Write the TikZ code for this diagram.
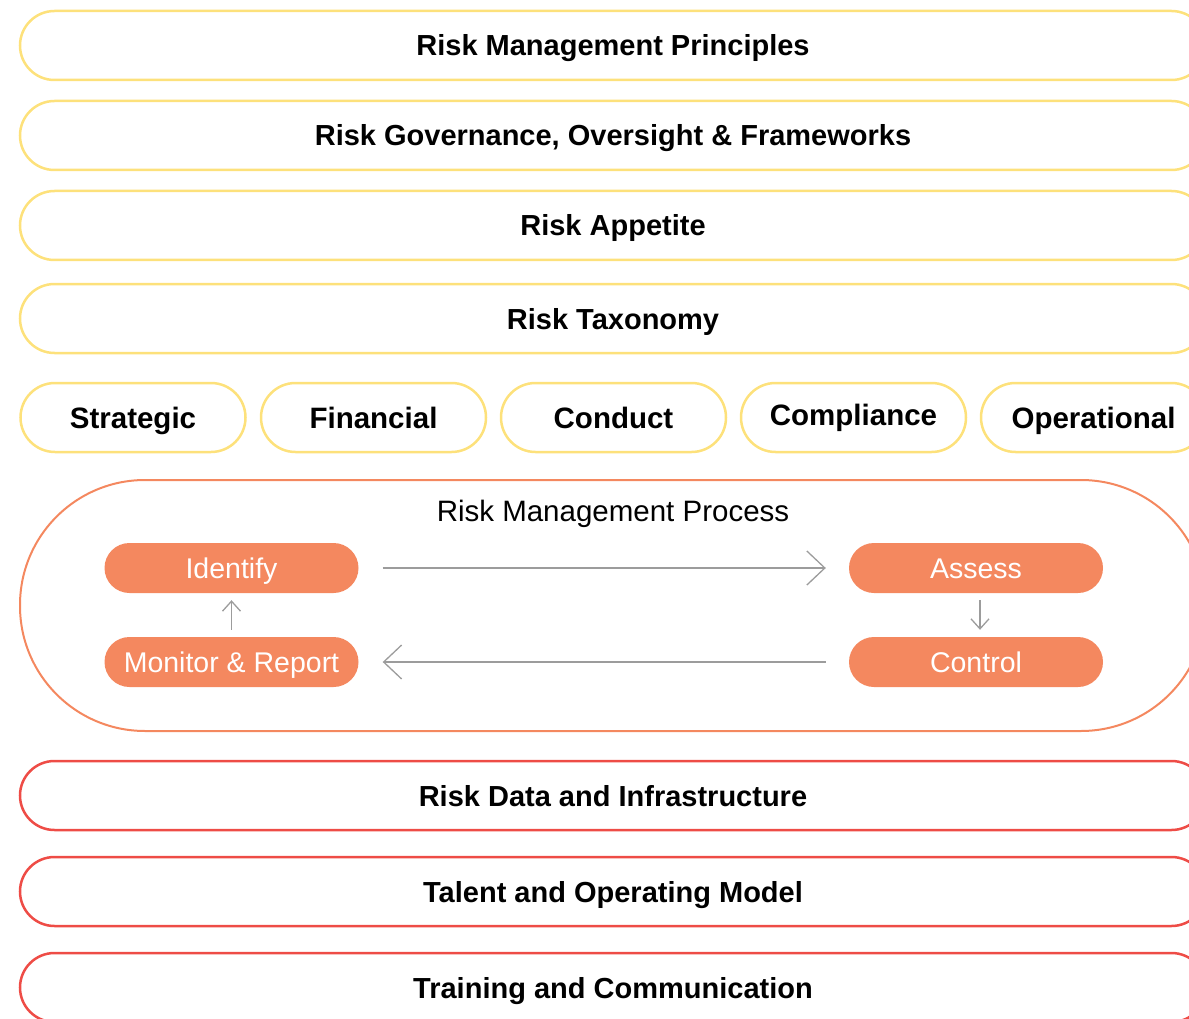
\documentclass[tikz,border=0pt]{standalone}
\usepackage{fontspec}
\setmainfont{Liberation Sans}
\usetikzlibrary{arrows.meta}
\definecolor{bandyellow}{HTML}{FDE17B}
\definecolor{bandred}{HTML}{EE4C46}
\definecolor{procorange}{HTML}{F4885F}
\definecolor{flowgray}{HTML}{9C9C9C}
\begin{document}
\begin{tikzpicture}[x=1pt,y=-1pt,
  band/.style={draw=#1, line width=2.5pt, rounded corners=34.5pt,
    minimum width=1186pt, minimum height=69pt, inner sep=0pt,
    text height=21pt, text depth=0pt,
    font=\fontsize{29}{32}\selectfont\bfseries},
  pill/.style={draw=bandyellow, line width=2.5pt, rounded corners=34.5pt,
    minimum width=225pt, minimum height=69pt, inner sep=0pt,
    text height=21pt, text depth=0pt,
    font=\fontsize{29.5}{32}\selectfont\bfseries},
  stepbox/.style={fill=procorange, rounded corners=25pt,
    minimum width=254pt, minimum height=50pt, inner sep=0pt,
    text height=20.5pt, text depth=0pt,
    text=white, font=\fontsize{28.5}{31}\selectfont},
  flow/.style={draw=flowgray, line width=1.3pt,
    -{Straight Barb[length=18pt,width=34pt,line width=1.3pt]}},
  flowsmall/.style={draw=flowgray, line width=1.3pt,
    -{Straight Barb[length=10pt,width=18pt,line width=1.3pt]}}
]
\useasboundingbox (0,0) rectangle (1189,1019);
\clip (0,0) rectangle (1189,1019);

% upper framework layers
\node[band=bandyellow] (principles) at (613,45.5) {Risk Management Principles};
\node[band=bandyellow] (governance) at (613,135.5) {Risk Governance, Oversight \& Frameworks};
\node[band=bandyellow] (appetite) at (613,225.5) {Risk Appetite};
\node[band=bandyellow] (taxonomy) at (613,318.5) {Risk Taxonomy};

% risk categories
\node[pill] (strategic) at (133,417.5) {Strategic};
\node[pill] (financial) at (373.5,417.5) {Financial};
\node[pill] (conduct) at (613.5,417.5) {Conduct};
\node[pill, text depth=6pt] (compliance) at (853.5,417.5) {Compliance};
\node[pill] (operational) at (1093.5,417.5) {Operational};

% risk management process
\node[draw=procorange, line width=2pt, rounded corners=125pt,
  minimum width=1186pt, minimum height=251pt, inner sep=0pt] (process) at (613,605.5) {};
\node[font=\fontsize{29.5}{32}\selectfont, text height=21pt, text depth=0pt,
  inner sep=0pt] (proctitle) at (613,511) {Risk Management Process};

\node[stepbox] (identify) at (231.5,568) {Identify};
\node[stepbox] (assess) at (976,568) {Assess};
\node[stepbox] (control) at (976,662) {Control};
\node[stepbox] (monitor) at (231.5,662) {Monitor \& Report};

\draw[flow, shorten <=24pt, shorten >=23pt] (identify.east) -- (assess.west);
\draw[flowsmall, shorten <=7pt, shorten >=7pt] ([xshift=4pt]assess.south) -- ([xshift=4pt]control.north);
\draw[flow, shorten <=23pt, shorten >=24pt] (control.west) -- (monitor.east);
\draw[flowsmall, shorten <=7pt, shorten >=7pt] (monitor.north) -- (identify.south);

% enabling layers
\node[band=bandred] (data) at (613,795.5) {Risk Data and Infrastructure};
\node[band=bandred] (talent) at (613,891.5) {Talent and Operating Model};
\node[band=bandred] (training) at (613,987.5) {Training and Communication};
\end{tikzpicture}
\end{document}
